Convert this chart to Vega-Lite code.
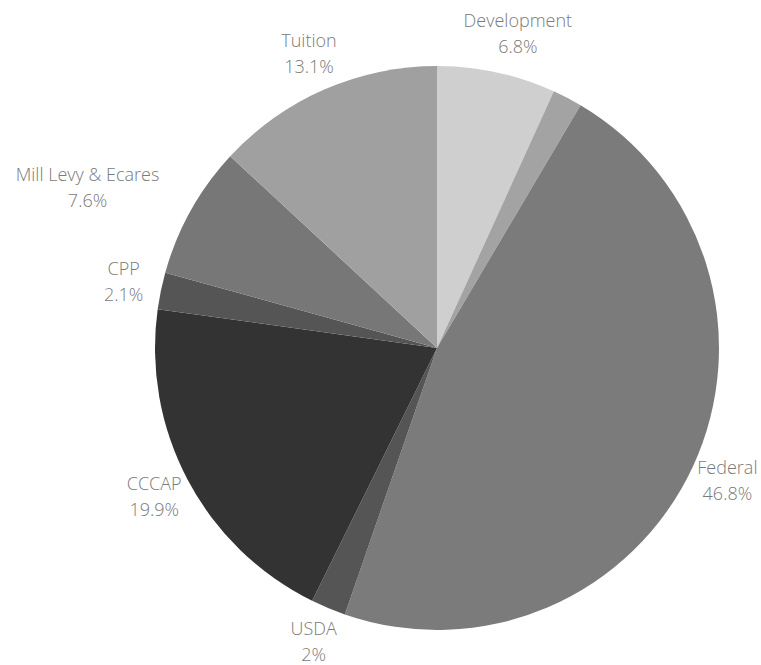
{
  "$schema": "https://vega.github.io/schema/vega-lite/v6.json",
  "width": 648,
  "height": 634,
  "autosize": {"type": "none"},
  "padding": {"left": 113, "top": 31, "right": 0, "bottom": 0},
  "background": "white",
  "config": {"view": {"stroke": null}},
  "data": {
    "values": [
      {"order": 1, "name": "Development", "value": 6.8},
      {"order": 2, "name": "", "value": 1.7},
      {"order": 3, "name": "Federal", "value": 46.8},
      {"order": 4, "name": "USDA", "value": 2},
      {"order": 5, "name": "CCCAP", "value": 19.9},
      {"order": 6, "name": "CPP", "value": 2.1},
      {"order": 7, "name": "Mill Levy & Ecares", "value": 7.6},
      {"order": 8, "name": "Tuition", "value": 13.1}
    ]
  },
  "transform": [
    {"calculate": "datum.name ? datum.name + '\\n' + datum.value + '%' : ''", "as": "label"}
  ],
  "encoding": {
    "theta": {"field": "value", "type": "quantitative", "stack": true},
    "order": {"field": "order", "type": "quantitative"}
  },
  "layer": [
    {
      "mark": {"type": "arc", "outerRadius": 282},
      "encoding": {
        "color": {
          "field": "name",
          "type": "nominal",
          "scale": {
            "domain": ["Development", "", "Federal", "USDA", "CCCAP", "CPP", "Mill Levy & Ecares", "Tuition"],
            "range": ["#cfcfcf", "#a3a3a3", "#7b7b7b", "#555555", "#333333", "#555555", "#777777", "#a0a0a0"]
          },
          "legend": null
        }
      }
    },
    {
      "mark": {"type": "text", "radius": 320, "dy": -13, "lineBreak": "\n", "lineHeight": 26, "font": "Open Sans", "fontWeight": 300, "fontSize": 18, "color": "#7a7a7a", "align": "center", "baseline": "middle"},
      "encoding": {
        "text": {"condition": {"test": "datum.name == 'Mill Levy & Ecares' || datum.name == 'Development'", "value": ""}, "field": "label"}
      }
    },
    {
      "mark": {"type": "text", "radius": 383, "dx": -15, "dy": 15, "lineBreak": "\n", "lineHeight": 26, "font": "Open Sans", "fontWeight": 300, "fontSize": 18, "color": "#7a7a7a", "align": "center", "baseline": "middle"},
      "encoding": {
        "text": {"condition": {"test": "datum.name != 'Mill Levy & Ecares'", "value": ""}, "field": "label"}
      }
    },
    {
      "mark": {"type": "text", "radius": 320, "dx": 13, "dy": -13, "lineBreak": "\n", "lineHeight": 26, "font": "Open Sans", "fontWeight": 300, "fontSize": 18, "color": "#7a7a7a", "align": "center", "baseline": "middle"},
      "encoding": {
        "text": {"condition": {"test": "datum.name != 'Development'", "value": ""}, "field": "label"}
      }
    }
  ]
}
